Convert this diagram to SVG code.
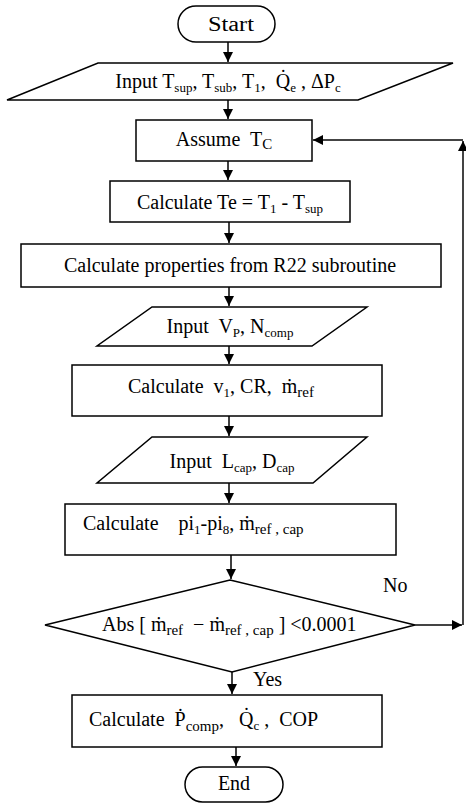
<svg xmlns="http://www.w3.org/2000/svg" width="466" height="804" viewBox="0 0 466 804">
<style>
.s{fill:#fff;stroke:#000;stroke-width:1.5}
.t{font-family:"Liberation Serif","Times New Roman",serif;font-size:20px;fill:#000;white-space:pre}
.m{text-anchor:middle}
.sub{font-size:13px}
.sub2{font-size:15px}
.c{stroke:#000;stroke-width:1.5;fill:none}
.fb{stroke:#444;stroke-width:2;fill:none}
</style>
<defs>
<marker id="ah" markerUnits="userSpaceOnUse" markerWidth="12" markerHeight="12" refX="10" refY="5" orient="auto">
<path d="M0,0 L10,5 L0,10 Z" fill="#000"/>
</marker>
</defs>
<rect width="466" height="804" fill="#fff"/>
<g id="connectors">
<line class="c" x1="228" y1="42" x2="228" y2="62" marker-end="url(#ah)"/>
<line class="c" x1="228" y1="100" x2="228" y2="119" marker-end="url(#ah)"/>
<line class="c" x1="228" y1="161" x2="228" y2="180" marker-end="url(#ah)"/>
<line class="c" x1="229" y1="222" x2="229" y2="243" marker-end="url(#ah)"/>
<line class="c" x1="229" y1="287" x2="229" y2="306" marker-end="url(#ah)"/>
<line class="c" x1="229" y1="346" x2="229" y2="364" marker-end="url(#ah)"/>
<line class="c" x1="229" y1="416" x2="229" y2="436" marker-end="url(#ah)"/>
<line class="c" x1="229" y1="483" x2="229" y2="503" marker-end="url(#ah)"/>
<line class="c" x1="231" y1="555" x2="231" y2="579" marker-end="url(#ah)"/>
<line class="c" x1="232" y1="672" x2="232" y2="694" marker-end="url(#ah)"/>
<line class="c" x1="236" y1="747" x2="236" y2="766" marker-end="url(#ah)"/>
<line class="fb" x1="415" y1="625" x2="462" y2="625" marker-end="url(#ah)"/>
<line class="fb" x1="463" y1="625" x2="463" y2="141" marker-end="url(#ah)"/>
<line class="fb" x1="463" y1="140" x2="313" y2="140" marker-end="url(#ah)"/>
<text class="t" x="383" y="592">No</text>
<text class="t" x="253" y="686">Yes</text>
</g>
<g id="start">
<rect class="s" x="178" y="6" width="97" height="36" rx="18"/>
<text class="t m" x="231" y="31" textLength="46" lengthAdjust="spacingAndGlyphs">Start</text>
</g>
<g id="input1">
<polygon class="s" points="98,63 453,63 358,100 7,100" stroke-width="1.2"/>
<text class="t m" x="228" y="88">Input T<tspan class="sub" dy="4">sup</tspan><tspan dy="-4">, T</tspan><tspan class="sub" dy="4">sub</tspan><tspan dy="-4">, T</tspan><tspan class="sub" dy="4">1</tspan><tspan dy="-4">,  Q̇</tspan><tspan class="sub" dy="4">e</tspan><tspan dy="-4"> , ΔP</tspan><tspan class="sub" dy="4">c</tspan></text>
</g>
<g id="assume">
<rect class="s" x="136" y="120" width="176" height="41"/>
<text class="t m" x="224" y="146">Assume  T<tspan class="sub2" dy="3">C</tspan></text>
</g>
<g id="calcTe">
<rect class="s" x="110" y="181" width="240" height="41"/>
<text class="t m" x="230" y="209">Calculate Te = T<tspan class="sub" dy="4">1</tspan><tspan dy="-4"> - T</tspan><tspan class="sub" dy="4">sup</tspan></text>
</g>
<g id="props">
<rect class="s" x="21" y="244" width="420" height="43"/>
<text class="t m" x="230" y="272">Calculate properties from R22 subroutine</text>
</g>
<g id="input2">
<polygon class="s" points="152,307 367,307 312,346 97,346" stroke-width="1.2"/>
<text class="t m" x="230" y="333">Input  V<tspan class="sub" dy="4">P</tspan><tspan dy="-4">, N</tspan><tspan class="sub" dy="4">comp</tspan></text>
</g>
<g id="calcV1">
<rect class="s" x="72" y="365" width="310" height="51"/>
<text class="t m" x="221" y="393">Calculate  v<tspan class="sub" dy="4">1</tspan><tspan dy="-4">, CR,  ṁ</tspan><tspan class="sub2" dy="4">ref</tspan></text>
</g>
<g id="input3">
<polygon class="s" points="152,437 367,437 313,483 97,483" stroke-width="1.2"/>
<text class="t m" x="232" y="468">Input  L<tspan class="sub" dy="4">cap</tspan><tspan dy="-4">, D</tspan><tspan class="sub" dy="4">cap</tspan></text>
</g>
<g id="calcPi">
<rect class="s" x="65" y="504" width="331" height="51"/>
<text class="t" x="83" y="530">Calculate    pi<tspan class="sub" dy="4">1</tspan><tspan dy="-4">-pi</tspan><tspan class="sub" dy="4">8</tspan><tspan dy="-4">, ṁ</tspan><tspan class="sub2" dy="4">ref , cap</tspan></text>
</g>
<g id="decision">
<polygon class="s" points="230,580 415,625 232,672 45,625" stroke-width="1.2"/>
<text class="t" x="102" y="631">Abs [ ṁ<tspan class="sub2" dy="4">ref</tspan><tspan dy="-4">  − ṁ</tspan><tspan class="sub2" dy="4">ref , cap</tspan><tspan dy="-4"> ] &lt;0.0001</tspan></text>
</g>
<g id="calcP">
<rect class="s" x="72" y="695" width="310" height="52"/>
<text class="t" x="89" y="726">Calculate  Ṗ<tspan class="sub2" dy="5">comp</tspan><tspan dy="-5">,   Q̇</tspan><tspan class="sub" dy="4">c</tspan><tspan dy="-4"> ,  COP</tspan></text>
</g>
<g id="end">
<rect class="s" x="185" y="767" width="98" height="35" rx="17.5"/>
<text class="t m" x="234" y="790">End</text>
</g>
</svg>
